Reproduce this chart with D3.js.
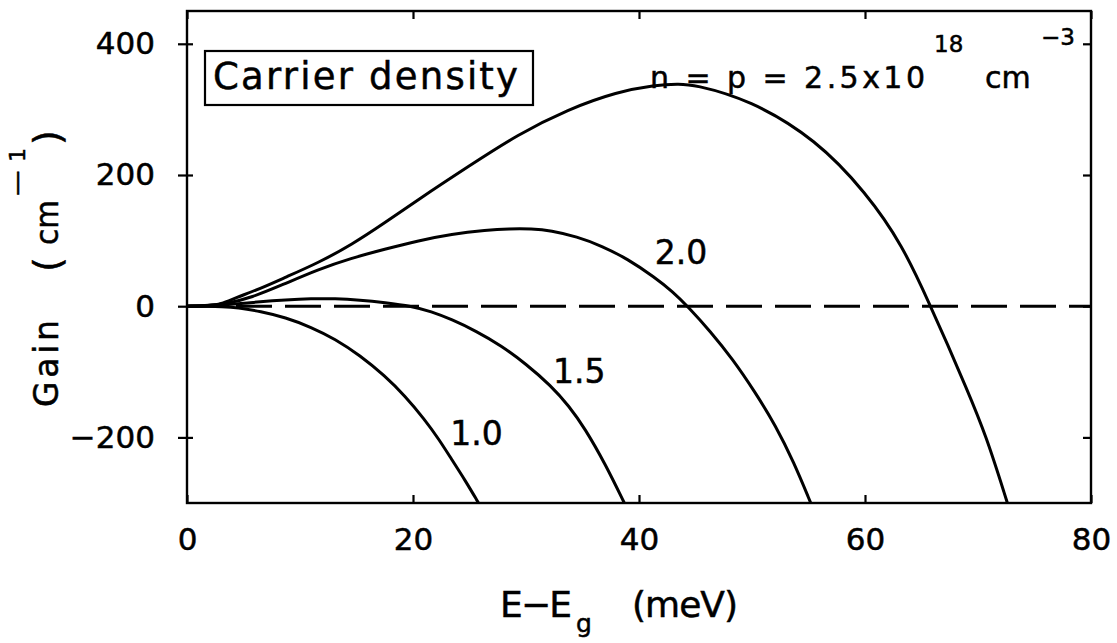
<!DOCTYPE html>
<html>
<head>
<meta charset="utf-8">
<script src="https://cdn.jsdelivr.net/npm/d3@7"></script>
<style>
  body { margin: 0; background: #fff; }
  svg text { font-family: "DejaVu Sans", sans-serif; fill: #000; stroke: #000; stroke-width: 0.5px; }
</style>
</head>
<body>
<svg id="chart" width="1117" height="643"></svg>
<script>
// Optical gain spectra for several carrier densities (n = p, in 10^18 cm^-3)
const xTicks = [0, 20, 40, 60, 80];
const yTicks = [400, 200, 0, -200];

const densityLabels = ["1.0", "1.5", "2.0", "2.5"];

// photon energy above the gap (meV) and gain (cm^-1) for each density
const energy10 = [0, 2, 3, 4.5, 6.5, 8.7, 11, 13.1, 15.3, 17.5, 19.3, 21, 22.3, 23.4, 24.6, 25.8];
const gain10   = [0, 0, -0.5, -2, -8, -17, -32, -50, -75, -106, -137, -172, -203, -233, -265, -300];

const energy15 = [0, 2, 4.2, 6.5, 8.7, 11, 13.1, 15.3, 17.5, 19.9, 21.6, 23.4, 25.6, 27.8, 30, 32.2, 33.8, 35.2, 37, 38.7];
const gain15   = [0, 0.5, 3, 7, 9.6, 11.5, 11.7, 9.5, 5.6, 0, -8, -20, -38, -60, -88, -121, -152, -186, -240, -300];

const energy20 = [0, 2, 3.5, 5.7, 8.5, 11.6, 14.5, 17.5, 20.5, 23.4, 26.5, 28.5, 30.5, 32.2, 34.5, 36.7, 39, 41.4, 43, 44.3, 46.3, 48.3, 50.2, 52.1, 53.7, 55.2];
const gain20   = [0, 1, 4, 13, 33, 56, 73, 87, 100, 110, 116, 118, 118, 115.5, 106, 92, 72, 44, 22, 0, -38, -81, -129, -182, -238, -300];

const energy25 = [0, 2, 3, 4.2, 6.5, 8.7, 11.6, 14.6, 17.5, 20.5, 24.9, 29.3, 33.7, 38.1, 41.4, 43.5, 44.8, 49.8, 55.7, 60.1, 63.3, 65.8, 67.3, 68.9, 70.7, 72.6];
const gain25   = [0, 1, 3, 12, 27, 44, 66, 94, 127, 163, 213, 262, 300, 327, 337, 339, 338, 315, 254, 173, 94, 0, -58, -122, -196, -300];

const seriesEnergy = [energy10, energy15, energy20, energy25];
const seriesGain   = [gain10, gain15, gain20, gain25];

// label anchors for the curves, in data units (energy, gain); the top curve is named in the header
const labelEnergy = [23.3, 32.4, 41.4];
const labelGain   = [-211.6, -117, 64.3];

const svg = d3.select("#chart");

const x = d3.scaleLinear().domain([0, 80]).range([187, 1091]);
const y = d3.scaleLinear().domain([-300, 450]).range([503, 11]);

const ink = "#000";

// clip curves to the frame
svg.append("defs").append("clipPath").attr("id", "plot-clip")
  .append("rect")
  .attr("x", x(0)).attr("y", y(450))
  .attr("width", x(80) - x(0)).attr("height", y(-300) - y(450));

// axes
function styleAxis(g) {
  g.attr("font-family", "DejaVu Sans, sans-serif").attr("color", ink);
  g.select(".domain").remove();
  g.selectAll(".tick line").attr("stroke-width", 2.2);
}

const gLeft = svg.append("g")
  .attr("transform", `translate(${x(0)},0)`)
  .call(d3.axisLeft(y).tickValues(yTicks).tickSize(9).tickPadding(23));
styleAxis(gLeft);
gLeft.attr("font-size", 31);
gLeft.selectAll(".tick line").attr("x1", 6);

const gBottom = svg.append("g")
  .attr("transform", `translate(0,${y(-300)})`)
  .call(d3.axisBottom(x).tickValues(xTicks).tickSize(-8).tickPadding(25));
styleAxis(gBottom);
gBottom.attr("font-size", 31);

const gTop = svg.append("g")
  .attr("transform", `translate(0,${y(450)})`)
  .call(d3.axisTop(x).tickValues(xTicks).tickSize(-8).tickFormat(""));
styleAxis(gTop);

const gRight = svg.append("g")
  .attr("transform", `translate(${x(80)},0)`)
  .call(d3.axisRight(y).tickValues(yTicks).tickSize(-8).tickFormat(""));
styleAxis(gRight);

// frame
svg.append("rect")
  .attr("x", x(0)).attr("y", y(450))
  .attr("width", x(80) - x(0)).attr("height", y(-300) - y(450))
  .attr("fill", "none").attr("stroke", ink).attr("stroke-width", 2.4);

// zero-gain reference line
svg.append("line")
  .attr("x1", x(0)).attr("x2", x(80))
  .attr("y1", y(0)).attr("y2", y(0))
  .attr("stroke", ink).attr("stroke-width", 3)
  .attr("stroke-dasharray", "36,13");

// gain curves
const line = d3.line()
  .x(d => x(d[0]))
  .y(d => y(d[1]))
  .curve(d3.curveBasis);

const plot = svg.append("g").attr("clip-path", "url(#plot-clip)");
seriesEnergy.forEach((es, i) => {
  const pts = es.map((e, k) => [e, seriesGain[i][k]]);
  plot.append("path")
    .datum(pts)
    .attr("d", line)
    .attr("fill", "none")
    .attr("stroke", ink)
    .attr("stroke-width", 3)
    .attr("stroke-linejoin", "round");
});

// curve labels
labelEnergy.forEach((e, i) => {
  svg.append("text")
    .attr("x", x(e)).attr("y", y(labelGain[i]))
    .attr("font-size", 33)
    .text(densityLabels[i]);
});

// header: density of the top curve
svg.append("text").attr("x", 650).attr("y", 88).attr("font-size", 30)
  .attr("textLength", 275).attr("lengthAdjust", "spacing")
  .text("n = p = " + densityLabels[3] + "x10");
svg.append("text").attr("x", 934).attr("y", 52).attr("font-size", 23).text("18");
svg.append("text").attr("x", 985).attr("y", 88).attr("font-size", 30).text("cm");
svg.append("text").attr("x", 1041).attr("y", 45).attr("font-size", 23).text("\u22123");

// "Carrier density" box
svg.append("rect")
  .attr("x", 205).attr("y", 51).attr("width", 328).attr("height", 54)
  .attr("fill", "none").attr("stroke", ink).attr("stroke-width", 2.2);
svg.append("text").attr("x", 213).attr("y", 89).attr("font-size", 37)
  .attr("textLength", 305).attr("lengthAdjust", "spacing")
  .text("Carrier density");

// x axis title: E−E_g (meV)
svg.append("text").attr("x", 500).attr("y", 617).attr("font-size", 36)
  .attr("textLength", 72).attr("lengthAdjust", "spacing")
  .text("E\u2212E");
svg.append("text").attr("x", 576).attr("y", 632).attr("font-size", 25).text("g");
svg.append("text").attr("x", 632).attr("y", 617).attr("font-size", 36)
  .attr("textLength", 106).attr("lengthAdjust", "spacing")
  .text("(meV)");

// y axis title: Gain (cm^-1)
const yTitle = svg.append("g").attr("transform", "translate(58,407) rotate(-90)");
yTitle.append("text").attr("x", 0).attr("y", 0).attr("font-size", 33)
  .attr("textLength", 87).attr("lengthAdjust", "spacing").text("Gain");
yTitle.append("text").attr("x", 135).attr("y", 2).attr("font-size", 38).text("(");
yTitle.append("text").attr("x", 162).attr("y", 0).attr("font-size", 32)
  .attr("textLength", 45).attr("lengthAdjust", "spacingAndGlyphs").text("cm");
yTitle.append("text").attr("x", 209).attr("y", -33).attr("font-size", 22)
  .attr("textLength", 30).attr("lengthAdjust", "spacingAndGlyphs").text("\u2212");
yTitle.append("text").attr("x", 245).attr("y", -33).attr("font-size", 22).text("1");
yTitle.append("text").attr("x", 262).attr("y", 2).attr("font-size", 38).text(")");
</script>
</body>
</html>
